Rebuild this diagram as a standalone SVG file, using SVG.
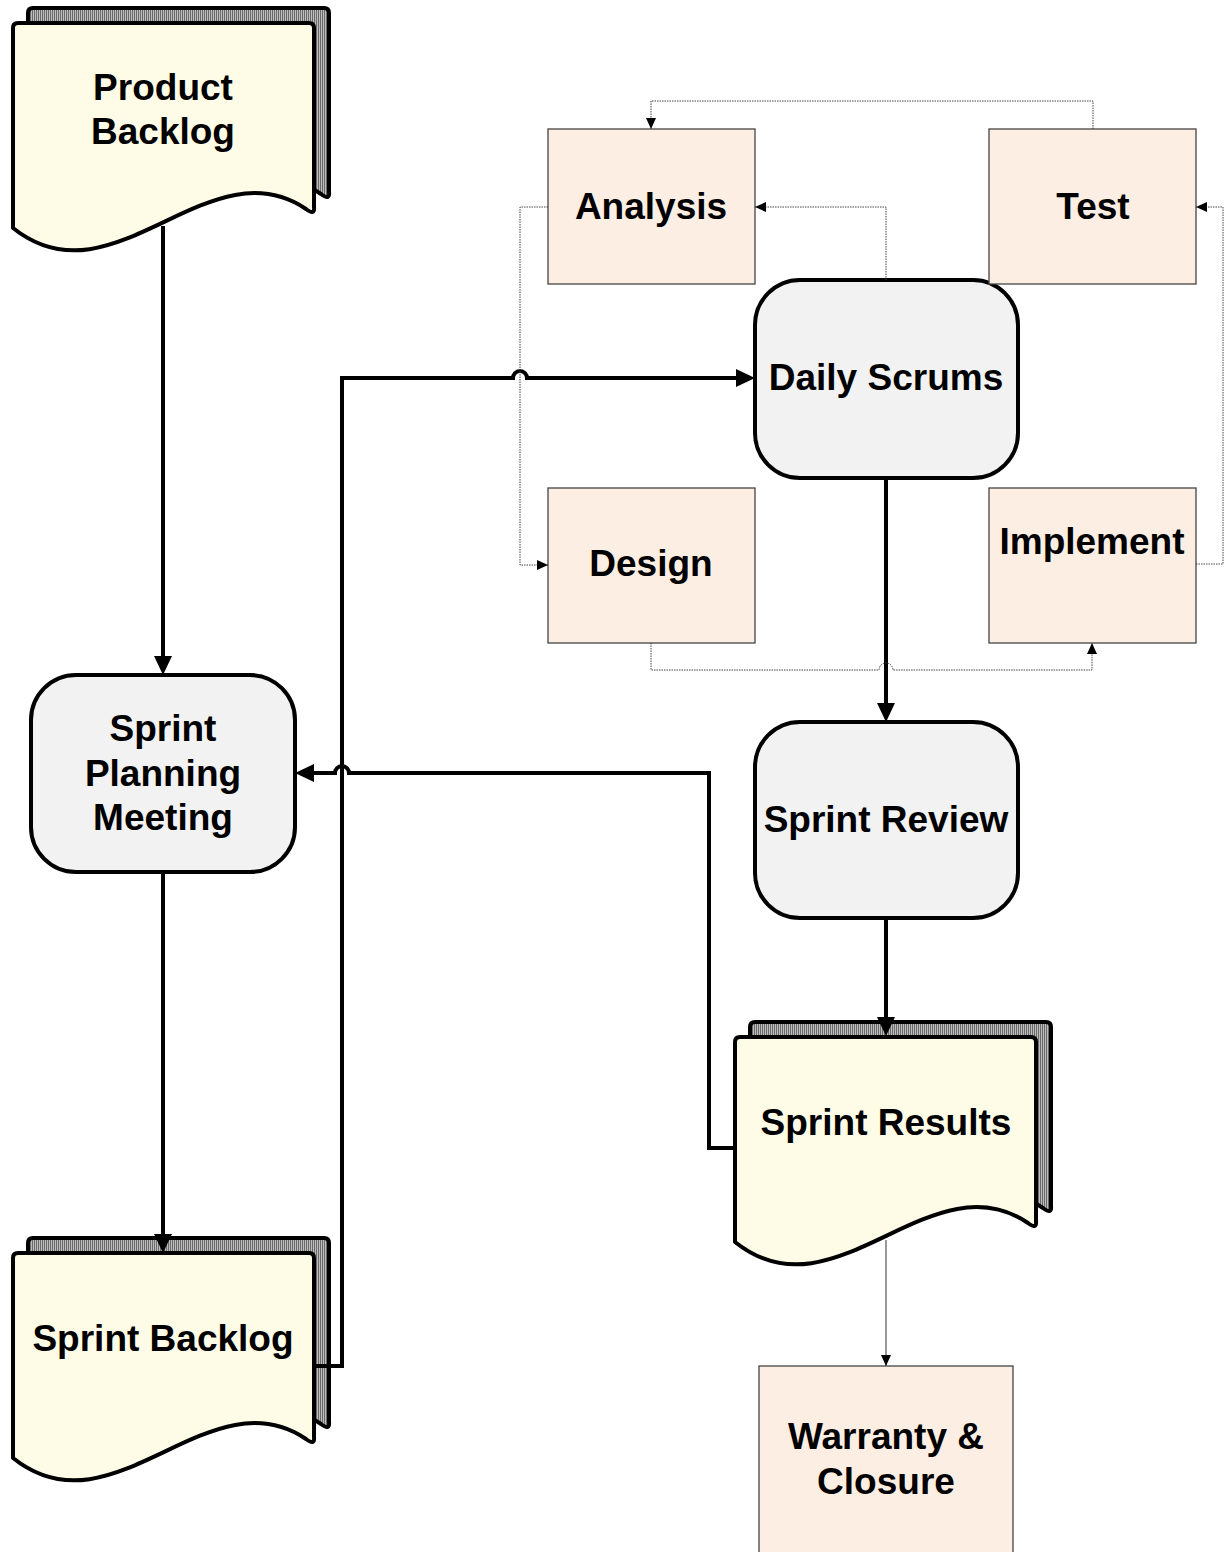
<svg xmlns="http://www.w3.org/2000/svg" width="1225" height="1552" viewBox="0 0 1225 1552">
  <style>
    .doc { fill: #fefbe6; stroke: #000; stroke-width: 4; stroke-linejoin: round; }
    .docback { fill: url(#stripes); stroke: #000; stroke-width: 4; stroke-linejoin: round; }
    .step { fill: #f2f2f2; stroke: #000; stroke-width: 4; }
    .task { fill: #fdeee3; stroke: #444; stroke-width: 1.3; }
    .lbl { font-family: "Liberation Sans", Arial, sans-serif; font-weight: bold; font-size: 37px; fill: #000; text-anchor: middle; }
    .flow { fill: none; stroke: #000; stroke-width: 4; }
    .loop { fill: none; stroke: #444; stroke-width: 1; stroke-dasharray: 1.5 1; }
    .thin { fill: none; stroke: #555; stroke-width: 1.2; }
  </style>
  <defs>
    <pattern id="stripes" patternUnits="userSpaceOnUse" width="2" height="4">
      <rect width="2" height="4" fill="#6a6a6a"/>
      <rect width="1" height="4" fill="#bdbdbd"/>
    </pattern>
    <marker id="bigArrow" markerUnits="userSpaceOnUse" markerWidth="19" markerHeight="18" refX="10" refY="9" orient="auto">
      <path d="M0,0 L19,9 L0,18 Z" fill="#000"/>
    </marker>
    <marker id="smallArrow" markerUnits="userSpaceOnUse" markerWidth="11" markerHeight="10" refX="11" refY="5" orient="auto">
      <path d="M0,0 L11,5 L0,10 Z" fill="#000"/>
    </marker>
    <!-- page outline with wavy lower edge, shared by all document nodes -->
    <path id="page" d="M13,28 Q13,23 18,23 L309,23 Q314,23 314,28 L314,207 Q315,216 306,209 C208,143 113,308 13,228 Z"/>
  </defs>

  <!-- Document nodes: striped back sheet plus front page -->
  <g id="product-backlog">
    <use href="#page" class="docback" transform="translate(15,-15)"/>
    <use href="#page" class="doc"/>
    <text class="lbl" x="163" y="100">Product</text>
    <text class="lbl" x="163" y="144">Backlog</text>
  </g>

  <g id="sprint-backlog" transform="translate(0,1230)">
    <use href="#page" class="docback" transform="translate(15,-15)"/>
    <use href="#page" class="doc"/>
    <text class="lbl" x="163" y="121">Sprint Backlog</text>
  </g>

  <g id="sprint-results" transform="translate(722,1014)">
    <use href="#page" class="docback" transform="translate(15,-15)"/>
    <use href="#page" class="doc"/>
    <text class="lbl" x="164" y="121">Sprint Results</text>
  </g>

  <!-- Meetings -->
  <g id="sprint-planning">
    <rect class="step" x="31" y="675" width="264" height="197" rx="45" ry="45"/>
    <text class="lbl" x="163" y="741">Sprint</text>
    <text class="lbl" x="163" y="786">Planning</text>
    <text class="lbl" x="163" y="830">Meeting</text>
  </g>

  <g id="daily-scrums">
    <rect class="step" x="755" y="280" width="263" height="198" rx="45" ry="45"/>
    <text class="lbl" x="886" y="390">Daily Scrums</text>
  </g>

  <g id="sprint-review">
    <rect class="step" x="755" y="722" width="263" height="196" rx="45" ry="45"/>
    <text class="lbl" x="886" y="832">Sprint Review</text>
  </g>

  <!-- Work activities -->
  <g id="analysis">
    <rect class="task" x="548" y="129" width="207" height="155"/>
    <text class="lbl" x="651" y="219">Analysis</text>
  </g>

  <g id="test">
    <rect class="task" x="989" y="129" width="207" height="155"/>
    <text class="lbl" x="1093" y="219">Test</text>
  </g>

  <g id="design">
    <rect class="task" x="548" y="488" width="207" height="155"/>
    <text class="lbl" x="651" y="576">Design</text>
  </g>

  <g id="implement">
    <rect class="task" x="989" y="488" width="207" height="155"/>
    <text class="lbl" x="1092" y="554">Implement</text>
  </g>

  <g id="warranty-closure">
    <rect class="task" x="759" y="1366" width="254" height="200"/>
    <text class="lbl" x="886" y="1449">Warranty &amp;</text>
    <text class="lbl" x="886" y="1494">Closure</text>
  </g>

  <!-- Connectors -->
  <g id="connectors">
    <path class="flow" d="M163,226 V666" marker-end="url(#bigArrow)"/>
    <path class="flow" d="M163,872 V1244" marker-end="url(#bigArrow)"/>
    <path class="flow" d="M315,1366 H342 V378 H513 A7,7 0 0 1 527,378 H746" marker-end="url(#bigArrow)"/>
    <path class="flow" d="M886,478 V713" marker-end="url(#bigArrow)"/>
    <path class="flow" d="M886,918 V1027" marker-end="url(#bigArrow)"/>
    <path class="flow" d="M735,1148 H709 V773 H349 A7,7 0 0 0 335,773 H304" marker-end="url(#bigArrow)"/>
    <path class="thin" d="M886,1240 V1366" marker-end="url(#smallArrow)"/>

    <path class="loop" d="M886,280 V207 H755" marker-end="url(#smallArrow)"/>
    <path class="loop" d="M548,207 H520 V565 H548" marker-end="url(#smallArrow)"/>
    <path class="loop" d="M651,643 V670 H879 A7,7 0 0 1 893,670 H1092 V643" marker-end="url(#smallArrow)"/>
    <path class="loop" d="M1196,564 H1223 V207 H1196" marker-end="url(#smallArrow)"/>
    <path class="loop" d="M1093,129 V101 H651 V129" marker-end="url(#smallArrow)"/>
  </g>
</svg>
